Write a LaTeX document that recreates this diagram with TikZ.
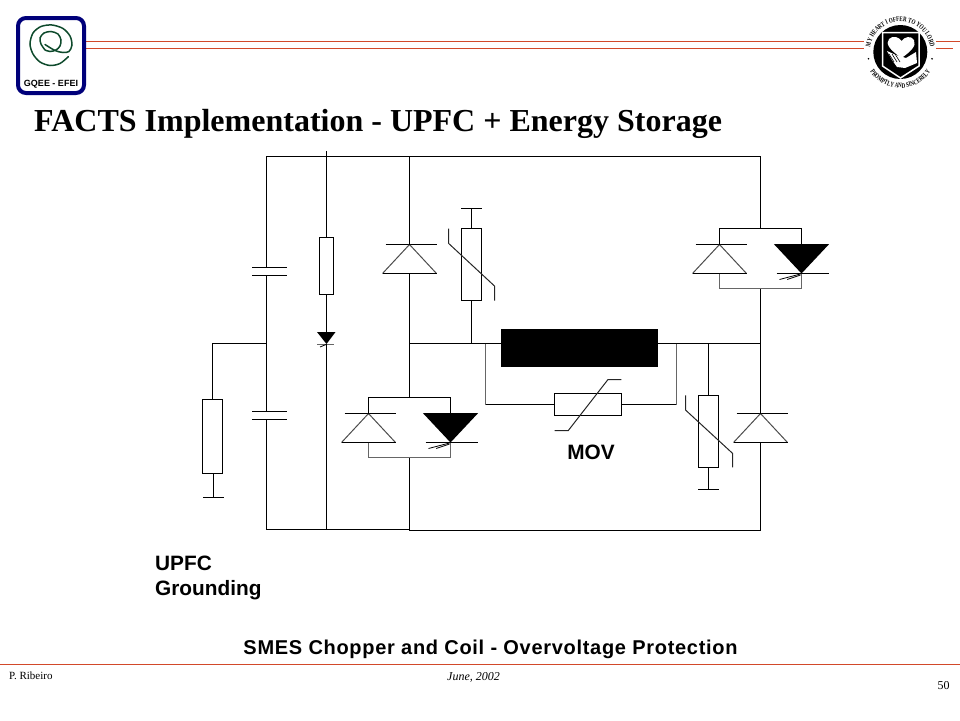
\documentclass[tikz,border=0pt]{standalone}
\usepackage{fontspec}
\setmainfont{Liberation Serif}
\setsansfont{Liberation Sans}
\newfontfamily\logofont[FakeStretch=0.72]{Liberation Serif}
\usetikzlibrary{decorations.text}
\definecolor{rulered}{HTML}{D2492A}
\definecolor{logonavy}{HTML}{00007A}
\definecolor{logogreen}{HTML}{0E4A2C}
\tikzset{
  wire/.style={line width=1.2pt, line cap=rect},
  greywire/.style={line width=1.6pt, draw=black!60},
  res/.style={rectangle, draw, line width=1.2pt, fill=white, inner sep=0pt, outer sep=0pt},
  headrule/.style={rulered, line width=1.3pt},
  sanslabel/.style={font=\sffamily\bfseries\fontsize{20.8}{25}\selectfont, inner sep=0pt, align=left}
}
\begin{document}
\begin{tikzpicture}[x=1pt, y=-1pt]
    \useasboundingbox (0,0) rectangle (960,720);
    % header and footer rules
    \coordinate (HLa) at (86,41.5);
    \coordinate (HLb) at (864,41.5);
    \coordinate (HLc) at (86,48.5);
    \coordinate (HLd) at (864,48.5);
    \coordinate (HRa) at (936,41.5);
    \coordinate (HRb) at (960,41.5);
    \coordinate (HRc) at (936,48.5);
    \coordinate (HRd) at (952.7,48.5);
    \coordinate (FLa) at (0,664.5);
    \coordinate (FLb) at (960,664.5);
    \foreach \from/\to in {HLa/HLb, HLc/HLd, HRa/HRb, HRc/HRd, FLa/FLb}
        \draw[headrule] (\from) -- (\to);

    % left logo
    \draw[logonavy, line width=4pt, fill=white, rounded corners=8pt] (18,18) rectangle (84,93);
    \draw[logogreen, line width=1.5pt, line cap=round] plot[smooth] coordinates {
        (68.3,56.7) (60,63.5) (50,65.5) (40,62) (33,54) (30,44) (33,33) (41,26.5) (52,25) (63,28.5) (70,36) (72,45) (69,51.5) (63,52.5) (55,50.5) (45,44.5)};
    \draw[logogreen, line width=1.5pt, line cap=round] plot[smooth] coordinates {
        (45,50) (41,44) (40,38) (44,33) (51,31.5) (58,34) (61,40) (60,46) (56,50) (50,51.5) (45,50)};
    \node[font=\sffamily\bfseries\fontsize{9}{10}\selectfont, inner sep=0pt] (logotext) at (51,84.5) {GQEE - EFEI};

    % right logo
    \fill[black] (900.3,52) circle (27);
    \draw[white, line width=1.5pt] (882.5,32.5) -- (919,32.5) -- (919,66) -- (900.5,78) -- (882.5,66) -- cycle;
    \fill[white] (901.5,58) .. controls (890,50) and (885,44) .. (889,39) .. controls (893,35) and (899,37) .. (901.5,41)
        .. controls (904,37) and (911,35) .. (914,40) .. controls (917,46) and (910,52) .. (901.5,58);
    \fill[white] (887,51) -- (892,60) -- (897,67) -- (905,68) -- (917,63) -- (916,52) -- (906,58) -- (896,55) -- cycle;
    \foreach \x in {889,892,895}
        \draw[black, line width=.6pt] (\x,54) -- (\x+5,62);
    \begin{scope}[shift={(900.3,52)}, x=1pt, y=1pt]
        \path[postaction={decorate}, decoration={text along path, text align=center,
            text={|\logofont\fontsize{7}{7}\selectfont\bfseries|MY HEART I OFFER TO YOU LORD}}]
            (186:30.5) arc[start angle=186, end angle=-6, radius=30.5];
        \path[postaction={decorate}, decoration={text along path, text align=center,
            text={|\logofont\fontsize{7}{7}\selectfont\bfseries|PROMPTLY AND SINCERELY}}]
            (200:36) arc[start angle=200, end angle=340, radius=36];
        \fill (192:32.5) circle (.9);
        \fill (-12:32.5) circle (.9);
    \end{scope}

    % rails and junctions
    \coordinate (TL) at (266.5,156.5);
    \coordinate (TR) at (760.5,156.5);
    \coordinate (BL) at (266.5,529.5);
    \coordinate (BM) at (409.5,529.5);
    \coordinate (BMb) at (409.5,530.5);
    \coordinate (BR) at (760.5,530.5);
    \coordinate (TM) at (409.5,156.5);
    \coordinate (VT) at (326.5,152);
    \coordinate (VB) at (326.5,529.5);
    \coordinate (JL) at (266.5,343.5);
    \coordinate (JLa) at (212.5,343.5);
    \coordinate (JM) at (409.5,343.5);
    \coordinate (JV) at (471.5,343.5);
    \coordinate (JR) at (760.5,343.5);
    \coordinate (JN) at (708.5,343.5);
    \coordinate (JMa) at (485.5,343.5);
    \coordinate (JMb) at (676.5,343.5);
    \coordinate (JCa) at (501,343.5);
    \coordinate (JCb) at (657.7,343.5);
    \coordinate (LMa) at (485.5,404.5);
    \coordinate (LMb) at (676.5,404.5);

    % capacitors
    \foreach \name/\y in {Ca/267.5, Cb/411.5} {
        \coordinate (\name t) at (266.5,\y);
        \coordinate (\name b) at (266.5,\y+8);
        \draw[wire, line cap=butt] (252,\y) -- (287,\y);
        \draw[wire, line cap=butt] (252,\y+8) -- (287,\y+8);
    }

    % open diodes
    \foreach \name/\x/\y in {Da/409.5/244.5, Db/368.5/413.5, Dc/719.5/244.5, Dd/760.5/413.5} {
        \coordinate (\name a) at (\x,\y);
        \coordinate (\name k) at (\x,\y+29);
        \draw[wire, line cap=butt] (\x-24,\y) -- (\x+27,\y);
        \draw[line width=1pt, draw=black!70] (\x-27,\y+29) -- (\x,\y) -- (\x+27,\y+29);
        \draw[wire, line cap=butt] (\x-27,\y+29) -- (\x+27,\y+29);
    }

    % black thyristors
    \foreach \name/\x/\y in {Ta/450.5/413.5, Tb/801.5/244.5} {
        \coordinate (\name t) at (\x,\y);
        \coordinate (\name k) at (\x,\y+29);
        \fill[black] (\x-27.7,\y-.5) -- (\x+27.7,\y-.5) -- (\x,\y+29) -- cycle;
        \draw[wire, line cap=butt] (\x-25,\y+29) -- (\x+27.5,\y+29);
        \draw[line width=.8pt] (\x-22,\y+35) -- (\x-1,\y+29.5);
        \draw[line width=.8pt] (\x-14.3,\y+35) -- (\x-1,\y+30.5);
    }

    % small thyristor
    \fill[black] (317,332) -- (335.5,332) -- (326.5,344) -- cycle;
    \draw[greywire] (317,344.5) -- (334,344.5);
    \draw[line width=.8pt] (320,347) -- (326,344.5);
    \coordinate (Dsa) at (326.5,332);
    \coordinate (Dsk) at (326.5,344.5);

    % resistors and varistors
    \node[res, minimum width=14, minimum height=57] (Ra) at (326.5,266) {};
    \node[res, minimum width=20, minimum height=74] (Rb) at (212.5,436.5) {};
    \node[res, minimum width=20, minimum height=72] (Va) at (471.5,264.5) {};
    \node[res, minimum width=20, minimum height=72] (Vb) at (708.5,431.5) {};
    \node[res, minimum width=67, minimum height=22] (Vc) at (588,404.5) {};
    \node[rectangle, fill=black, inner sep=0pt, outer sep=0pt, minimum width=156.7, minimum height=37.7] (Coil) at (579.3,347.9) {};

    % ground and supply stubs
    \coordinate (Ga) at (213.5,497.5);
    \coordinate (Gat) at (213.5,475);
    \coordinate (Gb) at (471.5,208.5);
    \coordinate (Gc) at (708.5,489.5);
    \draw[wire, line cap=butt] (203,497.5) -- (224,497.5);
    \draw[wire, line cap=butt] (461.3,208.5) -- (481.7,208.5);
    \draw[wire, line cap=butt] (698.3,489.5) -- (718.5,489.5);

    % corner points of the thyristor loops
    \coordinate (UJa) at (760.5,228.5);
    \coordinate (UJb) at (719.5,228.5);
    \coordinate (UJc) at (801.5,228.5);
    \coordinate (ULa) at (760.5,288.5);
    \coordinate (ULb) at (719.5,288.5);
    \coordinate (ULc) at (801.5,288.5);
    \coordinate (MJa) at (409.5,397.5);
    \coordinate (MJb) at (368.5,397.5);
    \coordinate (MJc) at (450.5,397.5);
    \coordinate (MLa) at (409.5,457.5);
    \coordinate (MLb) at (368.5,457.5);
    \coordinate (MLc) at (450.5,457.5);

    % wires
    \foreach \from/\to in {TL/TR, TL/Cat, Cab/Cbt, Cbb/BL, BL/BM, BMb/BR, TM/Daa, Dak/MJa, MJa/MJb, MJa/MJc,
        MJb/Dba, MJc/Tat, TR/UJa, UJa/UJb, UJa/UJc, UJb/Dca, UJc/Tbt, ULa/Dda, Ddk/BR, MLa/BMb, VT/Ra.north,
        Ra.south/Dsa, Dsk/VB, JL/JLa, JLa/Rb.north, Gb/Va.north, Va.south/JV, JM/JCa, JCb/JR,
        JN/Vb.north, Vb.south/Gc, Ga/Gat, LMa/Vc.west, Vc.east/LMb}
        \draw[wire] (\from) -- (\to);
    \foreach \from/\to in {Dbk/MLb, MLb/MLc, Tak/MLc, Dck/ULb, ULb/ULc, Tbk/ULc, JMa/LMa, JMb/LMb}
        \draw[greywire] (\from) -- (\to);

    % varistor slashes
    \draw[line width=1pt, draw=black!85] (448.5,228.7) -- (448.5,243.3) -- (494.5,286) -- (494.5,300.7);
    \draw[line width=1pt, draw=black!85] (685.5,395.3) -- (685.5,410) -- (732.5,453.3) -- (732.5,467.3);
    \draw[line width=1pt, draw=black!85] (554.7,430.5) -- (568.3,430.5) -- (608,379.5) -- (621.3,379.5);

    % labels
    \node[anchor=west, inner sep=0pt, font=\bfseries\fontsize{32}{36}\selectfont] (Title) at (34,124) {FACTS Implementation - UPFC + Energy Storage};
    \node[sanslabel] (Movlabel) at (591,452) {MOV};
    \node[sanslabel, anchor=north west] (Uplabel) at (155,555.5) {UPFC\\Grounding};
    \node[sanslabel, font=\sffamily\bfseries\fontsize{20}{24}\addfontfeature{LetterSpace=3.5}\selectfont] (Caption) at (490.5,649) {SMES Chopper and Coil - Overvoltage Protection};
    \node[inner sep=0pt, anchor=west, font=\fontsize{11}{12}\selectfont] (Author) at (9,675.5) {P. Ribeiro};
    \node[inner sep=0pt, font=\itshape\fontsize{12}{13}\selectfont] (Date) at (473.5,677) {June, 2002};
    \node[inner sep=0pt, font=\fontsize{12}{13}\selectfont] (Page) at (943.5,686) {50};
\end{tikzpicture}
\end{document}
